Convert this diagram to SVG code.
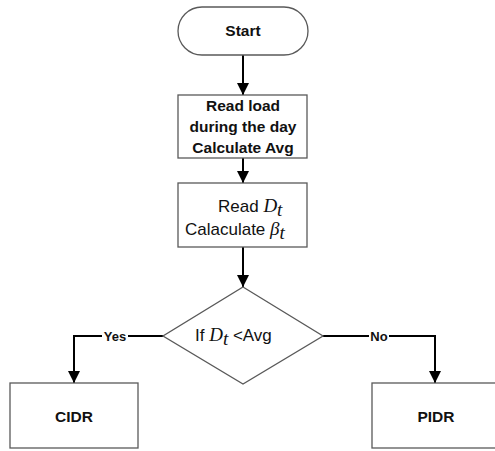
<svg xmlns="http://www.w3.org/2000/svg" width="495" height="451" viewBox="0 0 495 451">
<defs>
<marker id="arr" viewBox="0 0 10 10" refX="10" refY="5" markerWidth="6" markerHeight="6" orient="auto" markerUnits="strokeWidth">
<path d="M0,0 L10,5 L0,10 z" fill="#000"/>
</marker>
<style>
.shape{fill:#fff;stroke:#595959;stroke-width:1.3}
.conn{fill:none;stroke:#000;stroke-width:2}
.b{font-family:"Liberation Sans",Arial,sans-serif;font-weight:bold;font-size:15.5px;fill:#111;text-anchor:middle}
.r{font-family:"Liberation Sans",Arial,sans-serif;font-size:17px;fill:#111}
.m{font-family:"Liberation Serif","Times New Roman",serif;font-style:italic;font-size:19px;fill:#111}
.lbl{font-family:"Liberation Sans",Arial,sans-serif;font-weight:bold;font-size:13px;fill:#111;text-anchor:middle}
</style>
</defs>
<rect width="495" height="451" fill="#fff"/>
<g id="connectors">
<path class="conn" d="M243,55 V95" marker-end="url(#arr)"/>
<path class="conn" d="M243,158 V183" marker-end="url(#arr)"/>
<path class="conn" d="M243,247 V287" marker-end="url(#arr)"/>
<path class="conn" d="M163,336 H74 V383" marker-end="url(#arr)"/>
<path class="conn" d="M323,336 H435 V383" marker-end="url(#arr)"/>
<rect x="102" y="329" width="26" height="14" fill="#fff"/>
<text class="lbl" x="115" y="341">Yes</text>
<rect x="369" y="329" width="20" height="14" fill="#fff"/>
<text class="lbl" x="379" y="341">No</text>
</g>
<g id="start">
<rect class="shape" x="178" y="7" width="130" height="48" rx="24" ry="24"/>
<text class="b" x="243" y="36">Start</text>
</g>
<g id="read-load">
<rect class="shape" x="178" y="95" width="129" height="63"/>
<text class="b" x="243" y="111">Read load</text>
<text class="b" x="243" y="132">during the day</text>
<text class="b" x="243" y="153">Calculate Avg</text>
</g>
<g id="read-dt">
<rect class="shape" x="178" y="183" width="129" height="64"/>
<text x="218" y="212"><tspan class="r">Read </tspan><tspan class="m">D</tspan><tspan class="m" font-size="14" dy="4">t</tspan></text>
<text x="185" y="235"><tspan class="r">Calaculate </tspan><tspan class="m">β</tspan><tspan class="m" font-size="14" dy="4">t</tspan></text>
</g>
<g id="decision">
<polygon class="shape" points="243,287 323,336 243,384 163,336"/>
<text x="195" y="341"><tspan class="r">If </tspan><tspan class="m">D</tspan><tspan class="m" font-size="14" dy="4">t</tspan><tspan class="r" dy="-4"> &lt;Avg</tspan></text>
</g>
<g id="cidr">
<rect class="shape" x="10" y="383" width="128" height="65"/>
<text class="b" x="74" y="422">CIDR</text>
</g>
<g id="pidr">
<rect class="shape" x="372" y="383" width="130" height="65"/>
<text class="b" x="436" y="422">PIDR</text>
</g>
</svg>
